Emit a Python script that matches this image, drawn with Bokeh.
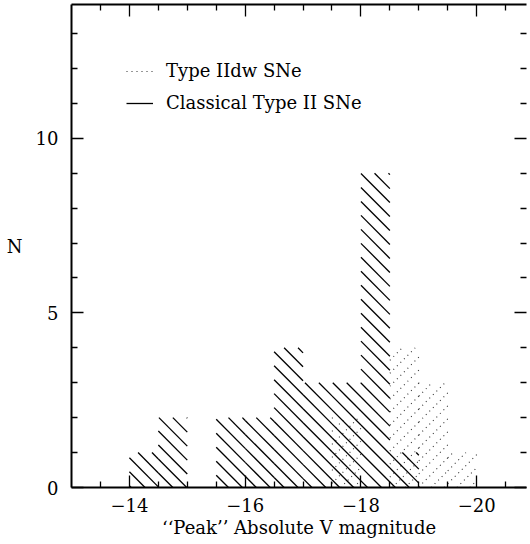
import numpy as np
from bokeh.plotting import figure
from bokeh.models import (Range1d, LinearAxis, FixedTicker, Legend, LegendItem,
                          CustomLabelingPolicy)
from bokeh.embed import file_html
from bokeh.resources import INLINE

# Histogram in 0.5-mag bins; each bin is given by its faint edge
bin_faint_edge = [-14.0, -14.5, -15.0, -15.5, -16.0, -16.5, -17.0, -17.5, -18.0, -18.5, -19.0, -19.5]
classical_counts = [1, 2, 0, 2, 2, 4, 3, 3, 9, 1, 0, 0]
iidw_counts = [0, 0, 0, 0, 0, 0, 0, 2, 0, 4, 3, 1]
BIN_W = 0.5

x_major = [-14, -16, -18, -20]
x_major_labels = ["\u221214", "\u221216", "\u221218", "\u221220"]
x_minor = [-13.5, -14.5, -15.0, -15.5, -16.5, -17.0, -17.5, -18.5, -19.0, -19.5, -20.5]
y_major = [0, 5, 10]
y_major_labels = ["0", "5", "10"]
y_minor = [1, 2, 3, 4, 6, 7, 8, 9, 11, 12, 13]

# Plot geometry (pixels) used for 45-degree hatching
X_FAINT, X_BRIGHT = -13.0, -20.86
Y_MIN, Y_MAX = 0.0, 13.83
FRAME_W, FRAME_H = 458.0, 484.0
SX = FRAME_W / (X_FAINT - X_BRIGHT)
SY = FRAME_H / (Y_MAX - Y_MIN)

FONT = "DejaVu Serif"
FONT_SIZE = "18px"


def hatch(edges, counts, spacing, phase, rising):
    """Clip a family of 45-degree lines to every bar of a histogram."""
    x0, y0, x1, y1 = [], [], [], []
    for lo, n in zip(edges, counts):
        if n <= 0:
            continue
        a = (X_FAINT - lo) * SX
        b = (X_FAINT - (lo - BIN_W)) * SX
        h = n * SY
        if rising:  # Y = X + c
            c = np.floor((-b - phase) / spacing) * spacing + phase
            while c <= h - a:
                xs, xe = max(a, -c), min(b, h - c)
                if xe > xs:
                    x0.append(xs); y0.append(xs + c); x1.append(xe); y1.append(xe + c)
                c += spacing
        else:  # Y = c - X
            c = np.floor((a - phase) / spacing) * spacing + phase
            while c <= b + h:
                xs, xe = max(a, c - h), min(b, c)
                if xe > xs:
                    x0.append(xs); y0.append(c - xs); x1.append(xe); y1.append(c - xe)
                c += spacing
    to_x = lambda v: [X_FAINT - t / SX for t in v]
    to_y = lambda v: [t / SY for t in v]
    return dict(x0=to_x(x0), y0=to_y(y0), x1=to_x(x1), y1=to_y(y1))


p = figure(width=530, height=544, output_backend="svg", toolbar_location=None,
           x_range=Range1d(X_FAINT, X_BRIGHT), y_range=Range1d(Y_MIN, Y_MAX),
           min_border_left=71, min_border_top=3, min_border_bottom=57, min_border_right=0,
           x_axis_location=None, y_axis_location=None)
p.grid.visible = False
p.outline_line_color = None
p.background_fill_color = "white"
p.border_fill_color = "white"

cl = hatch(bin_faint_edge, classical_counts, 14.0, 4.0, rising=False)
dw = hatch(bin_faint_edge, iidw_counts, 13.0, 2.0, rising=True)

r_dw = p.segment(x0=dw["x0"], y0=dw["y0"], x1=dw["x1"], y1=dw["y1"],
                 line_color="#333333", line_width=1.1, line_dash="1 4")
r_cl = p.segment(x0=cl["x0"], y0=cl["y0"], x1=cl["x1"], y1=cl["y1"],
                 line_color="black", line_width=1.3)

# Frame edges without numbers (top and right) keep their ticks only
no_labels = CustomLabelingPolicy(code="for (const i of indices) indices.unset(i)")


def style_axis(ax, labels=True):
    ax.axis_line_width = 2
    ax.axis_line_color = "black"
    ax.major_tick_line_width = 1.3
    ax.minor_tick_line_width = 1.3
    ax.major_tick_in = 12
    ax.major_tick_out = 0
    ax.minor_tick_in = 6
    ax.minor_tick_out = 0
    ax.major_label_text_font = FONT
    ax.major_label_text_font_size = FONT_SIZE if labels else "1px"
    ax.major_label_text_color = "black"
    ax.axis_label_text_font = FONT
    ax.axis_label_text_font_size = FONT_SIZE
    ax.axis_label_text_font_style = "normal"
    ax.axis_label_text_color = "black"
    if not labels:
        ax.major_label_policy = no_labels
        ax.major_label_standoff = 0


xt = FixedTicker(ticks=x_major, minor_ticks=x_minor)
yt = FixedTicker(ticks=y_major, minor_ticks=y_minor)

bottom = LinearAxis(ticker=xt, axis_label="\u2018\u2018Peak\u2019\u2019 Absolute V magnitude")
style_axis(bottom)
bottom.major_label_overrides = {float(k): v for k, v in zip(x_major, x_major_labels)}
bottom.major_label_standoff = 10
bottom.axis_label_standoff = 2
p.add_layout(bottom, "below")

left = LinearAxis(ticker=yt, axis_label="N")
style_axis(left)
left.major_label_overrides = {float(k): v for k, v in zip(y_major, y_major_labels)}
left.major_label_standoff = 13
left.axis_label_standoff = 10
left.axis_label_orientation = "horizontal"
p.add_layout(left, "left")

top = LinearAxis(ticker=xt)
style_axis(top, labels=False)
p.add_layout(top, "above")

right = LinearAxis(ticker=yt)
style_axis(right, labels=False)
right.axis_line_color = None
p.add_layout(right, "right")

legend = Legend(items=[LegendItem(label="Type IIdw SNe", renderers=[r_dw]),
                       LegendItem(label="Classical Type II SNe", renderers=[r_cl])],
                location=(55, 374))
legend.border_line_color = None
legend.background_fill_alpha = 0
legend.label_text_font = FONT
legend.label_text_font_size = FONT_SIZE
legend.label_text_color = "black"
legend.glyph_width = 27
legend.glyph_height = 20
legend.label_height = 20
legend.label_standoff = 13
legend.spacing = 11
legend.padding = 0
legend.margin = 0
p.add_layout(legend, "center")

open("out.html", "w").write(file_html(p, INLINE))
